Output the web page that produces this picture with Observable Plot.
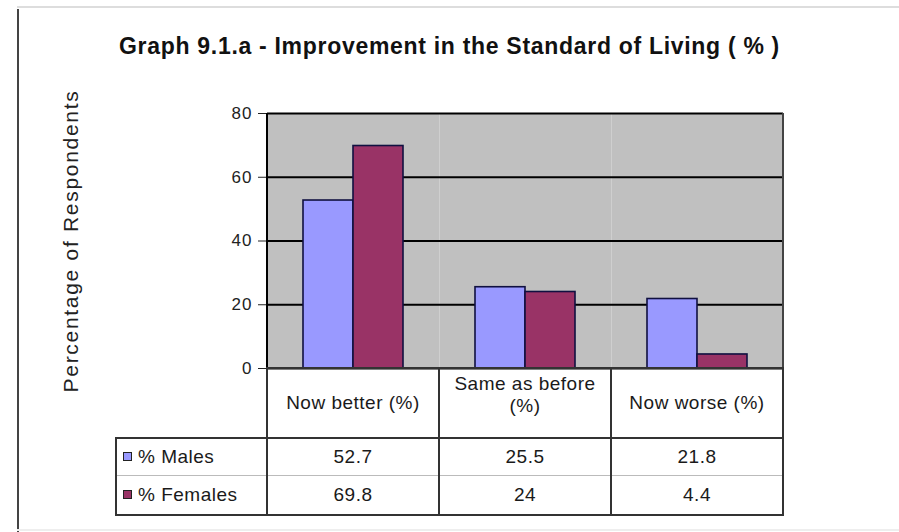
<!DOCTYPE html>
<html>
<head>
<meta charset="utf-8">
<script src="https://cdn.jsdelivr.net/npm/d3@7"></script>
<script src="https://cdn.jsdelivr.net/npm/@observablehq/plot@0.6"></script>
<style>
  html, body { margin: 0; padding: 0; background: #fff; }
  #wrap { position: relative; width: 899px; height: 532px; overflow: hidden; font-family: "Liberation Sans", Arial, sans-serif; color: #1a1a1a; }
  #chart { position: absolute; left: 0; top: 0; }
  #title { position: absolute; left: 0; top: 33px; width: 899px; text-align: center; font-weight: bold; font-size: 23px; letter-spacing: 0.7px; color: #111; }
  .line { position: absolute; }
  #plotborder { position: absolute; box-sizing: border-box; border-left: 2px solid #000; border-right: 2px solid #444; pointer-events: none; }
  #tbl { position: absolute; border-collapse: collapse; table-layout: fixed; font-size: 19px; letter-spacing: 0.5px; }
  #tbl td { border: 2px solid #333; text-align: center; padding: 0; line-height: 1.15; }
  #tbl td.empty { border-top: none; border-left: none; }
  #tbl tr.m td { border-bottom: 1px solid #bbb; }
  #tbl tr.f td { border-top: 1px solid #bbb; }
  #tbl td.leg { text-align: left; padding-left: 6px; }
  .sw { display: inline-block; width: 7px; height: 7px; border: 1px solid #222; margin-right: 6px; vertical-align: 2px; }
  svg [aria-label="y-axis label"] text { font-size: 21px; letter-spacing: 1.7px; }
  svg [aria-label="y-axis tick label"] text { font-size: 17px; letter-spacing: 1px; }
</style>
</head>
<body>
<div id="wrap">
  <div id="title"></div>
  <div id="chart"></div>
  <div id="plotborder"></div>
  <table id="tbl"></table>
</div>
<script>
// ---- data ----
const titleText = "Graph 9.1.a - Improvement in the Standard of Living ( % )";
const yLabel = "Percentage of Respondents";
const categories = ["Now better (%)", "Same as before (%)", "Now worse (%)"];
const series = ["% Males", "% Females"];
const males = [52.7, 25.5, 21.8];
const females = [69.8, 24, 4.4];
const yTicks = [0, 20, 40, 60, 80];
const colors = ["#9999ff", "#993366"];

// ---- layout ----
const W = 899, H = 532;
const plotLeft = 267, plotRight = 783, plotTop = 113, plotBottom = 368;
const legendLeft = 116;
const headerH = 70, maleRowH = 37, femaleRowH = 40;

const rows = [];
categories.forEach((c, i) => {
  rows.push({category: c, series: series[0], value: males[i]});
  rows.push({category: c, series: series[1], value: females[i]});
});

document.getElementById("title").textContent = titleText;

const chart = Plot.plot({
  width: W,
  height: H,
  marginLeft: plotLeft,
  marginRight: W - plotRight,
  marginTop: plotTop,
  marginBottom: H - plotBottom,
  style: {fontFamily: "'Liberation Sans', Arial, sans-serif", fontSize: "17px", color: "#222", background: "transparent"},
  fx: {domain: categories, padding: 0, axis: null, label: null},
  x: {domain: series, paddingInner: 0, paddingOuter: 0.72, axis: null},
  y: {domain: [0, 80], ticks: yTicks, tickSize: 9, tickPadding: 6, label: yLabel, labelAnchor: "center", labelArrow: "none", labelOffset: 204},
  color: {domain: series, range: colors},
  marks: [
    Plot.frame({fill: "#c0c0c0", stroke: "none"}),
    Plot.ruleY(yTicks.filter(d => d > 0), {stroke: "#000", strokeWidth: 2}),
    Plot.barY(rows, {fx: "category", x: "series", y: "value", fill: "series", stroke: "#101040", strokeWidth: 1.6}),
    Plot.ruleY([0], {stroke: "#000", strokeWidth: 2})
  ]
});
document.getElementById("chart").appendChild(chart);

// plot border
const pb = document.getElementById("plotborder");
Object.assign(pb.style, {left: (plotLeft - 1) + "px", top: plotTop + "px", width: (plotRight - plotLeft + 2) + "px", height: (plotBottom - plotTop) + "px"});

// outer frame lines
const wrap = document.getElementById("wrap");
function addLine(css) { const d = document.createElement("div"); d.className = "line"; Object.assign(d.style, css); wrap.appendChild(d); }
addLine({left: "17px", top: "9px", width: "2px", height: (H - 9) + "px", background: "#444"});
addLine({left: "17px", top: "6px", width: (W - 17) + "px", height: "2px", background: "#ddd"});
addLine({left: "17px", top: (H - 3) + "px", width: (W - 17) + "px", height: "2px", background: "#eee"});

// data table
const tbl = document.getElementById("tbl");
const colW = (plotRight - plotLeft) / categories.length;
Object.assign(tbl.style, {left: (legendLeft - 1) + "px", top: (plotBottom - 1) + "px", width: (plotRight - legendLeft + 2) + "px"});
const cg = document.createElement("colgroup");
[plotLeft - legendLeft, ...categories.map(() => colW)].forEach(w => { const c = document.createElement("col"); c.style.width = w + "px"; cg.appendChild(c); });
tbl.appendChild(cg);
const hr = tbl.insertRow();
hr.style.height = headerH + "px";
const e = hr.insertCell(); e.className = "empty";
categories.forEach(c => {
  const td = hr.insertCell();
  if (c === "Same as before (%)") { td.innerHTML = "Same as before<br>(%)"; td.style.verticalAlign = "top"; td.style.paddingTop = "4px"; }
  else td.textContent = c;
});
[[series[0], males, colors[0], "m", maleRowH], [series[1], females, colors[1], "f", femaleRowH]].forEach(([name, vals, col, cls, h]) => {
  const r = tbl.insertRow();
  r.className = cls;
  r.style.height = h + "px";
  const l = r.insertCell(); l.className = "leg";
  const sw = document.createElement("span"); sw.className = "sw"; sw.style.background = col;
  l.appendChild(sw); l.appendChild(document.createTextNode(name));
  vals.forEach(v => { const td = r.insertCell(); td.textContent = String(v); });
});
</script>
</body>
</html>
